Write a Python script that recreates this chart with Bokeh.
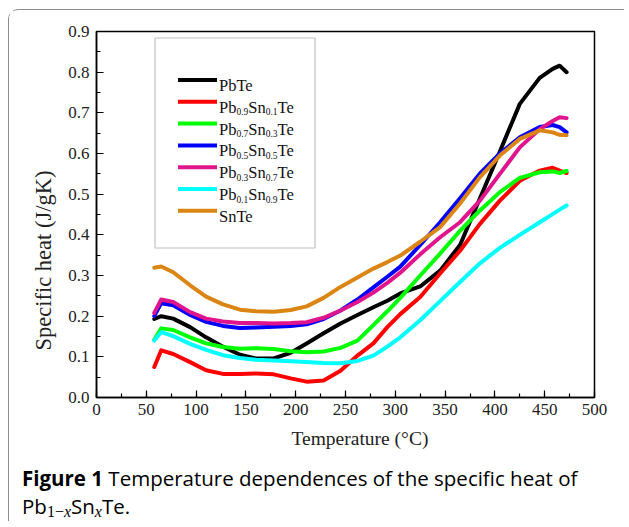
from bokeh.plotting import figure
from bokeh.layouts import column
from bokeh.models import Range1d, SingleIntervalTicker, PrintfTickFormatter, Label, BoxAnnotation, Title, Div
from bokeh.embed import file_html
from bokeh.resources import INLINE

# ---------------- data ----------------
temperature = [58, 65, 77, 94, 110, 127, 144, 160, 178, 195, 211, 228, 245, 262,
               278, 292, 305, 325, 345, 365, 385, 405, 425, 445, 458, 465, 472]

pbte = [0.193, 0.200, 0.194, 0.173, 0.148, 0.125, 0.105, 0.096, 0.096, 0.110, 0.133, 0.158, 0.182, 0.203,
        0.222, 0.238, 0.256, 0.273, 0.312, 0.375, 0.490, 0.605, 0.722, 0.786, 0.808, 0.816, 0.800]
pb09 = [0.075, 0.116, 0.107, 0.087, 0.067, 0.058, 0.058, 0.059, 0.057, 0.047, 0.039, 0.042, 0.066, 0.103,
        0.133, 0.173, 0.205, 0.247, 0.305, 0.361, 0.427, 0.484, 0.533, 0.558, 0.565, 0.558, 0.552]
pb07 = [0.142, 0.170, 0.166, 0.148, 0.133, 0.124, 0.120, 0.121, 0.119, 0.114, 0.111, 0.113, 0.122, 0.140,
        0.178, 0.212, 0.245, 0.300, 0.354, 0.410, 0.460, 0.505, 0.540, 0.554, 0.556, 0.552, 0.557]
pb05 = [0.200, 0.232, 0.227, 0.203, 0.186, 0.176, 0.171, 0.172, 0.174, 0.176, 0.180, 0.193, 0.214, 0.241,
        0.271, 0.297, 0.322, 0.375, 0.431, 0.490, 0.551, 0.600, 0.640, 0.665, 0.670, 0.665, 0.652]
pb03 = [0.208, 0.241, 0.235, 0.210, 0.194, 0.187, 0.183, 0.183, 0.182, 0.183, 0.185, 0.196, 0.214, 0.235,
        0.258, 0.282, 0.307, 0.352, 0.394, 0.431, 0.484, 0.550, 0.615, 0.660, 0.680, 0.689, 0.687]
pb01 = [0.140, 0.161, 0.151, 0.132, 0.117, 0.104, 0.097, 0.093, 0.091, 0.089, 0.087, 0.085, 0.084, 0.090,
        0.103, 0.125, 0.148, 0.190, 0.237, 0.284, 0.330, 0.368, 0.400, 0.431, 0.451, 0.462, 0.472]
snte = [0.319, 0.322, 0.308, 0.276, 0.248, 0.229, 0.216, 0.212, 0.211, 0.215, 0.224, 0.245, 0.272, 0.295,
        0.317, 0.333, 0.349, 0.383, 0.419, 0.477, 0.542, 0.595, 0.636, 0.657, 0.652, 0.646, 0.645]

series_values = [pbte, pb09, pb07, pb05, pb03, pb01, snte]
series_names = ["PbTe", "Pb0.9Sn0.1Te", "Pb0.7Sn0.3Te", "Pb0.5Sn0.5Te",
                "Pb0.3Sn0.7Te", "Pb0.1Sn0.9Te", "SnTe"]
# legend label pieces: (text, is_subscript)
legend_pieces = [
    [("PbTe", False)],
    [("Pb", False), ("0.9", True), ("Sn", False), ("0.1", True), ("Te", False)],
    [("Pb", False), ("0.7", True), ("Sn", False), ("0.3", True), ("Te", False)],
    [("Pb", False), ("0.5", True), ("Sn", False), ("0.5", True), ("Te", False)],
    [("Pb", False), ("0.3", True), ("Sn", False), ("0.7", True), ("Te", False)],
    [("Pb", False), ("0.1", True), ("Sn", False), ("0.9", True), ("Te", False)],
    [("SnTe", False)],
]
colors = ["#000000", "#FF0000", "#00FF00", "#0000FF", "#E0158D", "#00FFFF", "#DB8514"]

x_tick_interval = 50
y_tick_interval = 0.1
x_title = "Temperature (°C)"
y_title = "Specific heat (J/gK)"
caption_bold = "Figure 1"
caption_rest = "Temperature dependences of the specific heat of"

# ---------------- main figure ----------------
OX, OY = 9.5, 10.5        # page position of the layout content (margin + border)
FL, FT = 87, 21           # frame offset inside the canvas
FW, FH = 498, 366
RB, BB = 30, 70
p = figure(frame_width=FW, frame_height=FH,
           x_range=Range1d(0, 500), y_range=Range1d(0, 0.9),
           min_border_left=FL, min_border_top=FT, min_border_right=RB, min_border_bottom=BB,
           output_backend="svg", toolbar_location=None,
           background_fill_color="white", border_fill_color="white")
p.grid.visible = False
p.outline_line_color = "black"
p.outline_line_width = 1.5

serif = "Liberation Serif"
p.xaxis.ticker = SingleIntervalTicker(interval=x_tick_interval, num_minor_ticks=2)
p.yaxis.ticker = SingleIntervalTicker(interval=y_tick_interval, num_minor_ticks=2)
p.yaxis.formatter = PrintfTickFormatter(format="%.1f")
for ax in (p.xaxis[0], p.yaxis[0]):
    ax.axis_line_width = 1.5
    ax.axis_line_color = "black"
    ax.major_tick_in = 7
    ax.major_tick_out = 0
    ax.minor_tick_in = 4
    ax.minor_tick_out = 0
    ax.major_tick_line_width = 1.2
    ax.minor_tick_line_width = 1.2
    ax.major_label_text_font = serif
    ax.major_label_text_font_size = "17px"
    ax.major_label_text_color = "#222222"
p.xaxis.major_label_standoff = 6
p.yaxis.major_label_standoff = 7

# axis titles (off-centre like the reference: align to the start + offset)
p.add_layout(Title(text=y_title, align="left", offset=47, standoff=20,
                   text_font=serif, text_font_size="22.5px", text_font_style="normal",
                   text_color="#222222"), "left")
p.add_layout(Title(text=x_title, align="left", offset=195, standoff=16,
                   text_font=serif, text_font_size="19.5px", text_font_style="normal",
                   text_color="#222222"), "below")

for vals, col, name in zip(series_values, colors, series_names):
    p.line(temperature, vals, line_color=col, line_width=4, line_join="round", line_cap="round")

# page-pixel helpers relative to the frame (frame left/bottom in page pixels)
PX0, PY0 = OX + FL, OY + FT + FH
def sx(px):
    return px - PX0
def sy(py):
    return PY0 - py

# legend box
p.add_layout(BoxAnnotation(left=sx(155), right=sx(315), top=sy(38), bottom=sy(248),
                           left_units="screen", right_units="screen",
                           top_units="screen", bottom_units="screen",
                           fill_alpha=0, line_color="#333333", line_width=1.2, level="overlay"))

W = {"P": .556, "b": .5, "S": .556, "n": .5, "T": .611, "e": .444, ".": .25,
     "0": .5, "1": .5, "3": .5, "5": .5, "7": .5, "9": .5}
def tw(s, size):
    return sum(W.get(c, .5) for c in s) * size

MAIN, SUB = 16.5, 9.5
for i, (pieces, col) in enumerate(zip(legend_pieces, colors)):
    yc = 80 + i * 21.8
    p.add_layout(BoxAnnotation(left=sx(178), right=sx(217), top=sy(yc - 2), bottom=sy(yc + 2),
                               left_units="screen", right_units="screen",
                               top_units="screen", bottom_units="screen",
                               fill_color=col, fill_alpha=1, line_alpha=0, level="overlay"))
    xcur = 219
    for txt, sub in pieces:
        size = SUB if sub else MAIN
        base = yc + (10 if sub else 5.5)
        p.add_layout(Label(x=sx(xcur), y=sy(base), x_units="screen", y_units="screen",
                           text=txt, text_align="left", text_baseline="alphabetic",
                           text_font=serif, text_font_size=f"{size}px", text_color="#111111"))
        xcur += tw(txt, size)

# ---------------- caption ----------------
sub_style = ("font-family:'Liberation Serif';font-size:16px;vertical-align:-3px;line-height:0")
caption_html = (
    "<div style=\"font-family:'Open Sans';font-size:20.5px;line-height:28px;color:#000;"
    "white-space:nowrap;margin:0;padding:0 0 0 13px;position:relative;top:-3px\">"
    f"<b>{caption_bold}</b> {caption_rest}<br>"
    f"Pb<span style=\"{sub_style}\">1−<i>x</i></span>Sn"
    f"<span style=\"{sub_style}\"><i>x</i></span>Te.</div>"
)
cap = Div(text=caption_html, width=FL + FW + RB, height=54,
          styles={"margin": "0", "padding": "0"})

layout = column(p, cap, spacing=0)
layout.styles = {"margin-left": "8px", "margin-top": "9px",
                 "border-top": "1.5px solid #8c8c8c", "border-left": "1.5px solid #8c8c8c",
                 "border-top-left-radius": "10px"}

open("out.html", "w").write(file_html(layout, INLINE))
